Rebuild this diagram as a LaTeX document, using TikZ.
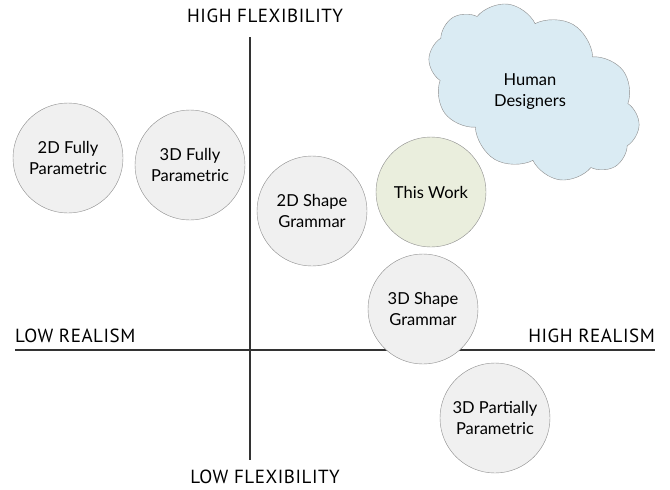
\documentclass[tikz,border=0pt]{standalone}
\usepackage{fontspec}
\setmainfont{Lato}
\newfontfamily\axisfont{PT Sans}[LetterSpace=3]
\usepackage{tikz}
\usetikzlibrary{shapes.symbols}

\definecolor{axisgray}{HTML}{333333}
\definecolor{edgegray}{HTML}{8C8C8C}
\definecolor{methodfill}{HTML}{F0F0F0}
\definecolor{workfill}{HTML}{EAEEDD}
\definecolor{cloudfill}{HTML}{DAEBF3}

\tikzset{
  method/.style={circle, draw=edgegray, fill=methodfill, minimum size=110pt, inner sep=0pt,
    align=center, font=\fontsize{16.5}{21}\selectfont},
  axislabel/.style={font=\axisfont\fontsize{19}{22}\selectfont, inner sep=0pt}
}

\begin{document}
\begin{tikzpicture}[x=1pt,y=-1pt]
    \useasboundingbox (0,0) rectangle (670,490);
    \coordinate (ytop) at (250,37);
    \coordinate (ybot) at (250,460);
    \coordinate (xleft) at (15,350);
    \coordinate (xright) at (655,350);
    \draw[axisgray, line width=1.5pt] (ytop) -- (ybot);
    \draw[axisgray, line width=1.5pt] (xleft) -- (xright);
    \node[axislabel] (hiflex) at (265,16) {HIGH FLEXIBILITY};
    \node[axislabel] (loflex) at (265,477) {LOW FLEXIBILITY};
    \node[axislabel, anchor=base west] (lorealism) at (15,342) {LOW REALISM};
    \node[axislabel, anchor=base east] (hirealism) at (655,342) {HIGH REALISM};

    % tilted cloud, long axis running down to the right; text set upright on top
    \node[cloud, cloud puffs=10, cloud puff arc=115, aspect=1.45, rotate=-30,
          draw=edgegray, fill=cloudfill, minimum width=226pt, minimum height=156pt] (designers) at (534,92) {};
    \node[align=center, font=\fontsize{16.5}{21}\selectfont] (designerstext) at (530,92) {Human\\Designers};

    \node[method] (fullparamtwo) at (68,158) {2D Fully\\Parametric};
    \node[method] (fullparamthree) at (190,165) {3D Fully\\Parametric};
    \node[method] (shapegramtwo) at (312,211) {2D Shape\\Grammar};
    \node[method, fill=workfill] (thiswork) at (431,192) {This Work};
    \node[method] (shapegramthree) at (423,309) {3D Shape\\Grammar};
    \node[method] (partialparam) at (495,418) {3D Partially\\Parametric};
\end{tikzpicture}
\end{document}
